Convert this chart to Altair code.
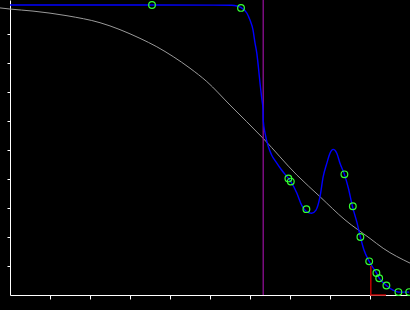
import altair as alt
import pandas as pd

# gray reference curve
gray_x = [-0.25, 0.0, 0.575, 1.425, 2.25, 3.25, 3.67, 4.08, 4.5, 4.92, 5.5, 6.33, 7.17, 7.75, 8.375, 9.0, 9.33, 10.0]
gray_y = [0.990, 0.986, 0.979, 0.963, 0.939, 0.885, 0.856, 0.822, 0.782, 0.736, 0.655, 0.540, 0.414, 0.339, 0.259, 0.195, 0.161, 0.110]

# blue fitted curve
blue_x = [0.0, 3.55, 5.54, 5.675, 5.79, 5.92, 6.0, 6.075, 6.125, 6.17, 6.21, 6.25, 6.29, 6.325, 6.33,
          6.375, 6.46, 6.54, 6.67, 6.79, 6.96, 7.02, 7.17, 7.29, 7.42, 7.54, 7.65, 7.75, 7.83, 7.92,
          8.0, 8.08, 8.17, 8.25, 8.36, 8.46, 8.56, 8.67, 8.76, 8.85, 8.98, 9.16, 9.23, 9.41, 9.575,
          9.71, 9.98]
blue_y = [1.0, 1.0, 0.999, 0.9966, 0.990, 0.9724, 0.948, 0.914, 0.869, 0.834, 0.786, 0.731, 0.683, 0.638, 0.603,
          0.559, 0.511, 0.483, 0.455, 0.431, 0.402, 0.391, 0.352, 0.310, 0.287, 0.282, 0.293, 0.339, 0.408, 0.454,
          0.489, 0.502, 0.489, 0.454, 0.416, 0.368, 0.306, 0.252, 0.200, 0.155, 0.116, 0.076, 0.058, 0.033, 0.017,
          0.010, 0.010]

# observed points
pt_x = [3.55, 5.775, 6.96, 7.02, 7.41, 8.36, 8.57, 8.76, 8.98, 9.16, 9.23, 9.41, 9.71, 9.98]
pt_y = [1.0, 0.99, 0.402, 0.391, 0.296, 0.416, 0.306, 0.200, 0.116, 0.076, 0.058, 0.033, 0.010, 0.010]

# vertical marker
vline_x = [6.33]

# red step segment
red_x = [9.02, 9.02, 9.4]
red_y = [0.1, 0.0, 0.0]
red_order = [0, 1, 2]

x_ticks = [1, 2, 3, 4, 5, 6, 7, 8, 9]
y_ticks = [0.1, 0.2, 0.3, 0.4, 0.5, 0.6, 0.7, 0.8, 0.9]

xs = alt.Scale(domain=[0, 10], nice=False, zero=False)
ys = alt.Scale(domain=[0, 295 / 290], nice=False, zero=False)

xax = alt.Axis(values=x_ticks, tickCount=20, labels=False, title=None, grid=False, domainColor="white",
               tickColor="white", tickSize=4, domainWidth=1, tickWidth=1)
yax = alt.Axis(values=y_ticks, tickCount=20, labels=False, title=None, grid=False, domainColor="white",
               tickColor="white", tickSize=3, domainWidth=1, tickWidth=1)

gray = alt.Chart(pd.DataFrame({"x": gray_x, "y": gray_y})).mark_line(
    color="#9a9a9a", strokeWidth=1, interpolate="monotone", clip=False
).encode(x=alt.X("x:Q", scale=xs, axis=xax), y=alt.Y("y:Q", scale=ys, axis=yax))

vline = alt.Chart(pd.DataFrame({"x": vline_x})).mark_rule(color="#9a10a0", strokeWidth=1.2).encode(
    x=alt.X("x:Q", scale=xs))

blue = alt.Chart(pd.DataFrame({"x": blue_x, "y": blue_y})).mark_line(
    color="#0000ff", strokeWidth=1.4, interpolate="monotone"
).encode(x=alt.X("x:Q", scale=xs), y=alt.Y("y:Q", scale=ys))

red = alt.Chart(pd.DataFrame({"x": red_x, "y": red_y, "o": red_order})).mark_line(
    color="#c00000", strokeWidth=1.5
).encode(x=alt.X("x:Q", scale=xs), y=alt.Y("y:Q", scale=ys), order="o:Q")

pts = alt.Chart(pd.DataFrame({"x": pt_x, "y": pt_y})).mark_point(
    shape="circle", filled=False, color="#33ff33", size=45, strokeWidth=1.2, opacity=1
).encode(x=alt.X("x:Q", scale=xs), y=alt.Y("y:Q", scale=ys))

chart = alt.layer(gray, vline, blue, red, pts).properties(
    width=400, height=295, background="black", autosize="none",
    padding={"left": 10, "top": 0, "right": 0, "bottom": 15}
).configure_view(stroke=None)

chart.save("out.html", embed_options={"renderer": "svg", "actions": False})
